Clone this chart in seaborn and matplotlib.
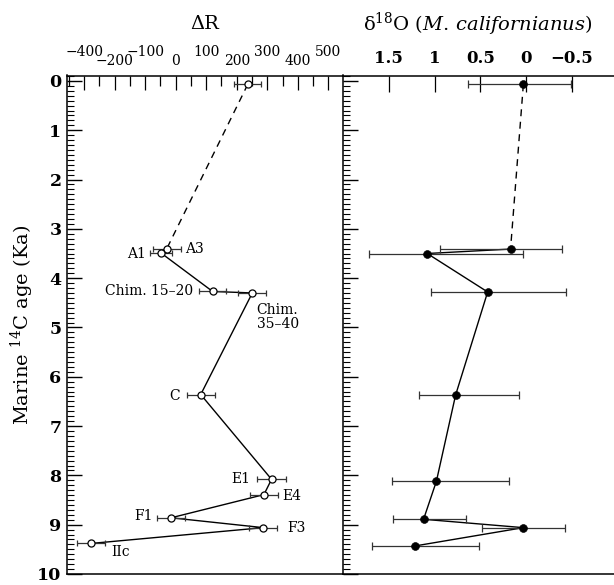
import matplotlib
matplotlib.use("Agg")
import matplotlib.pyplot as plt
from matplotlib.ticker import MultipleLocator
import matplotlib.transforms as mtransforms
import seaborn as sns

# Delta R (open circles), age in Ka
dr_age = [0.07, 3.40, 3.49, 4.27, 4.30, 6.36, 8.08, 8.39, 8.86, 9.06, 9.38]
dr_val = [236, -29, -48, 121, 251, 82, 314, 289, -15, 287, -277]
dr_err = [44, 46, 37, 45, 46, 46, 47, 46, 45, 46, 46]

# sample labels next to the points
lab_text = ["A1", "A3", "Chim. 15–20", "Chim.\n35–40", "C", "E1", "E4", "F1", "F3", "IIc"]
lab_x = [-98, 30, 56, 265, 14, 243, 350, -75, 367, -212]
lab_y = [3.52, 3.40, 4.27, 4.51, 6.39, 8.08, 8.41, 8.83, 9.06, 9.55]
lab_ha = ["right", "left", "right", "left", "right", "right", "left", "right", "left", "left"]
lab_va = ["center", "center", "center", "top", "center", "center", "center", "center", "center", "center"]

# top axis of the Delta R panel (labels are staggered as in the original)
dr_tick_pos = [-300, -200, -100, 0, 100, 200, 300, 400, 500]
dr_tick_lab = ["−400", "−200", "−100", "0", "100", "200", "300", "400", "500"]

# delta 18O (M. californianus), filled circles, ranges as low / high ends
o_age = [0.07, 3.41, 3.50, 4.28, 6.37, 8.12, 8.89, 9.06, 9.43]
o_val = [0.03, 0.17, 1.08, 0.42, 0.77, 0.98, 1.12, 0.03, 1.21]
o_max = [0.64, 0.94, 1.72, 1.04, 1.17, 1.47, 1.45, 0.48, 1.68]
o_min = [-0.49, -0.39, 0.03, -0.44, 0.08, 0.19, 0.66, -0.43, 0.51]

o_ticks = [1.5, 1, 0.5, 0, -0.5]
o_tick_lab = ["1.5", "1", "0.5", "0", "−0.5"]

sns.set_style("ticks")
plt.rcParams["font.family"] = ["DejaVu Serif"]
plt.rcParams["mathtext.fontset"] = "dejavuserif"
for k in ["text.color", "axes.labelcolor", "xtick.color", "ytick.color", "axes.edgecolor"]:
    plt.rcParams[k] = "black"

fig = plt.figure(figsize=(6.14, 5.85), dpi=100)
ax1 = fig.add_axes([67 / 614, 11 / 585, 276 / 614, 498.5 / 585])
ax2 = fig.add_axes([343 / 614, 11 / 585, 271 / 614, 498.5 / 585])

# ---- left panel : Delta R
sns.lineplot(x=dr_val[:2], y=dr_age[:2], sort=False, estimator=None, color="black",
             linewidth=1.0, ax=ax1).lines[-1].set_dashes((5, 4))
sns.lineplot(x=dr_val[1:], y=dr_age[1:], sort=False, estimator=None, color="black",
             linewidth=1.0, ax=ax1)
ax1.errorbar(dr_val, dr_age, xerr=dr_err, fmt="none", ecolor="#333333",
             elinewidth=0.9, capsize=2.5, capthick=0.9, zorder=3)
sns.scatterplot(x=dr_val, y=dr_age, marker="o", s=26, facecolor="white",
                edgecolor="black", linewidth=0.9, zorder=5, ax=ax1)

for t, x, y, ha, va in zip(lab_text, lab_x, lab_y, lab_ha, lab_va):
    ax1.text(x, y, t, ha=ha, va=va, fontsize=10, linespacing=1.0)

ax1.set_xlim(-356, 548)
ax1.set_ylim(10, -0.11)
ax1.xaxis.tick_top()
ax1.set_xticks(dr_tick_pos)
ax1.set_xticklabels([])
ax1.xaxis.set_minor_locator(MultipleLocator(50))
ax1.tick_params(axis="x", which="major", direction="in", length=10, width=0.9)
ax1.tick_params(axis="x", which="minor", direction="in", length=7, width=0.9)
trans = mtransforms.blended_transform_factory(ax1.transData, ax1.transAxes)
for i, (p, s) in enumerate(zip(dr_tick_pos, dr_tick_lab)):
    yy = 1.047 if i % 2 == 0 else 1.029
    ax1.text(p, yy, s, transform=trans, ha="center", va="center", fontsize=10)

ax1.set_yticks(range(0, 11))
ax1.yaxis.set_minor_locator(MultipleLocator(0.1))
ax1.tick_params(axis="y", which="major", direction="in", length=11, width=1.0,
                labelsize=12.5, pad=4)
ax1.tick_params(axis="y", which="minor", direction="in", length=5, width=0.8)
for lab in ax1.get_yticklabels():
    lab.set_fontweight("bold")
ax1.set_ylabel("Marine $^{14}$C age (Ka)", fontsize=14, labelpad=1)
ax1.spines["right"].set_visible(False)

# ---- right panel : delta 18O
sns.lineplot(x=o_val[:2], y=o_age[:2], sort=False, estimator=None, color="black",
             linewidth=1.0, ax=ax2).lines[-1].set_dashes((5, 4))
sns.lineplot(x=o_val[1:], y=o_age[1:], sort=False, estimator=None, color="black",
             linewidth=1.0, ax=ax2)
xerr = [[v - lo for v, lo in zip(o_val, o_min)], [hi - v for v, hi in zip(o_val, o_max)]]
ax2.errorbar(o_val, o_age, xerr=xerr, fmt="none", ecolor="#333333",
             elinewidth=0.9, capsize=3, capthick=0.9, zorder=3)
sns.scatterplot(x=o_val, y=o_age, marker="o", s=32, color="black",
                edgecolor="black", zorder=5, ax=ax2)

ax2.set_xlim(2.0, -0.96)
ax2.set_ylim(10, -0.11)
ax2.xaxis.tick_top()
ax2.set_xticks(o_ticks)
ax2.set_xticklabels(o_tick_lab, fontsize=12, fontweight="bold")
ax2.tick_params(axis="x", direction="in", length=11.5, width=0.9, pad=6)
ax2.set_yticks(range(0, 11))
ax2.set_yticklabels([])
ax2.yaxis.set_minor_locator(MultipleLocator(0.1))
ax2.tick_params(axis="y", which="major", direction="in", length=11, width=1.0)
ax2.tick_params(axis="y", which="minor", direction="in", length=5, width=0.8)
ax2.spines["right"].set_visible(False)

for a in (ax1, ax2):
    for sp in a.spines.values():
        sp.set_linewidth(1.1)
    a.set_xlabel("")

fig.text(205 / 614, 1 - 24 / 585, "ΔR", ha="center", va="center", fontsize=14)
fig.text(478 / 614, 1 - 24 / 585,
         r"δ$^{18}$O ($\mathit{M.\,californianus}$)", ha="center", va="center", fontsize=14)

fig.savefig("out.png", dpi=100)
